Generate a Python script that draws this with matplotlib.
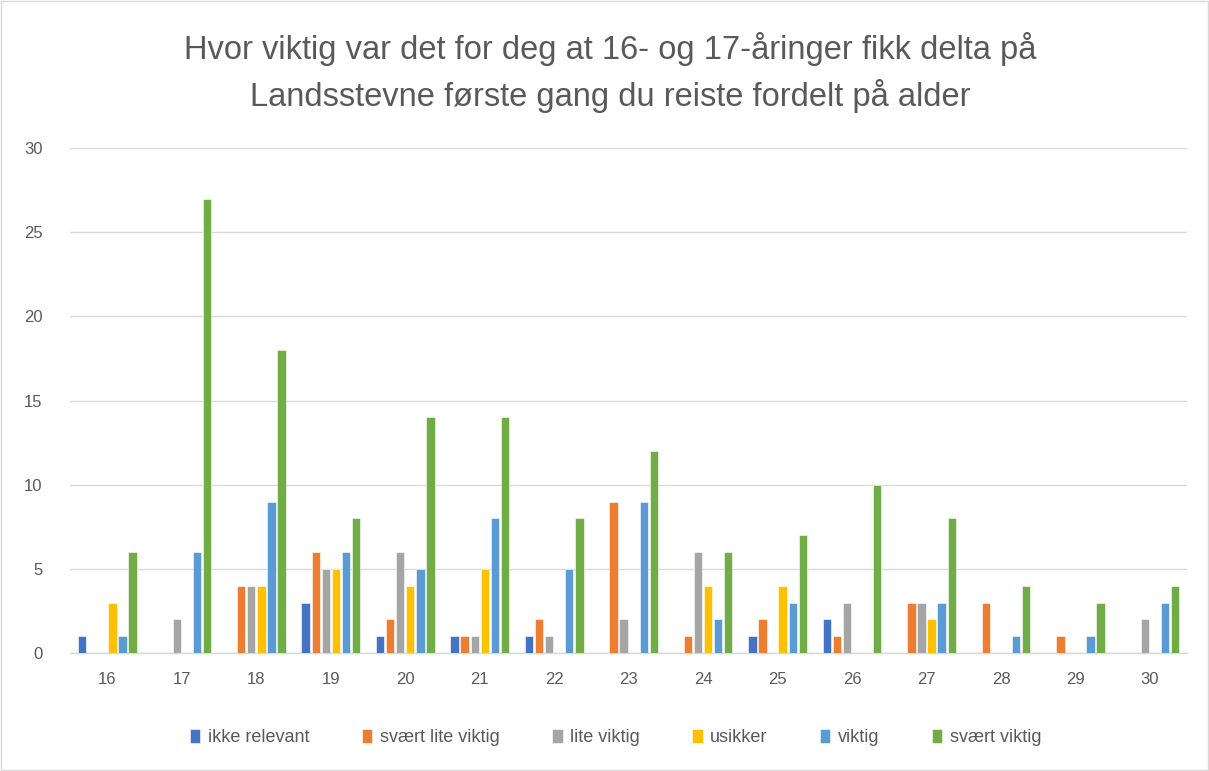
"""Grouped bar chart: importance by age (Landsstevne survey)"""

import numpy as np
import matplotlib
matplotlib.use('Agg')
import matplotlib.pyplot as plt

plt.rcParams['font.family'] = ['Liberation Sans', 'DejaVu Sans']

ages = ['16', '17', '18', '19', '20', '21', '22', '23', '24', '25', '26', '27', '28', '29', '30']
series_names = ['ikke relevant', 'svært lite viktig', 'lite viktig', 'usikker', 'viktig', 'svært viktig']

ikke_relevant = [1, 0, 0, 3, 1, 1, 1, 0, 0, 1, 2, 0, 0, 0, 0]
svaert_lite_viktig = [0, 0, 4, 6, 2, 1, 2, 9, 1, 2, 1, 3, 3, 1, 0]
lite_viktig = [0, 2, 4, 5, 6, 1, 1, 2, 6, 0, 3, 3, 0, 0, 2]
usikker = [3, 0, 4, 5, 4, 5, 0, 0, 4, 4, 0, 2, 0, 0, 0]
viktig = [1, 6, 9, 6, 5, 8, 5, 9, 2, 3, 0, 3, 1, 1, 3]
svaert_viktig = [6, 27, 18, 8, 14, 14, 8, 12, 6, 7, 10, 8, 4, 3, 4]

colors = ['#4472C4', '#ED7D31', '#A5A5A5', '#FFC000', '#5B9BD5', '#70AD47']
TXT = '#595959'


def main():
    data = [ikke_relevant, svaert_lite_viktig, lite_viktig, usikker, viktig, svaert_viktig]

    fig = plt.figure(figsize=(12.09, 7.71), dpi=100)
    ax = fig.add_axes([0.058, 0.153, 0.924, 0.655])

    x = np.arange(len(ages))
    step = 0.135
    width = 0.112
    for i, (vals, name, c) in enumerate(zip(data, series_names, colors)):
        pos = x + (i - 2.5) * step
        ax.bar(pos, vals, width, color=c, label=name, edgecolor='white', linewidth=0.4, zorder=3)

    ax.set_xlim(-0.5, len(ages) - 0.5)
    ax.set_ylim(0, 30)
    ax.set_yticks(range(0, 31, 5))
    ax.set_xticks(x)
    ax.set_xticklabels(ages)
    ax.tick_params(axis='both', length=0, labelsize=12, colors=TXT)
    ax.tick_params(axis='y', pad=20)
    ax.tick_params(axis='x', pad=14)
    ax.grid(axis='y', color='#D9D9D9', linewidth=1, zorder=0)
    for s in ['top', 'right', 'left']:
        ax.spines[s].set_visible(False)
    ax.spines['bottom'].set_color('#D9D9D9')
    ax.spines['bottom'].set_linewidth(1)

    fig.text(0.505, 0.906, 'Hvor viktig var det for deg at 16- og 17-åringer fikk delta på\n'
             'Landsstevne første gang du reiste fordelt på alder',
             ha='center', va='center', fontsize=23.5, color=TXT, linespacing=1.5)

    fig.legend(loc='center', bbox_to_anchor=(0.509, 0.043), ncol=6, frameon=False,
               fontsize=13, labelcolor=TXT, handlelength=0.6, handleheight=0.8,
               handletextpad=0.4, columnspacing=2.9)

    # thin frame around the whole chart
    fig.patches.append(plt.Rectangle((0.001, 0.001), 0.998, 0.998, transform=fig.transFigure,
                                     fill=False, edgecolor='#D9D9D9', linewidth=1))

    fig.savefig('out.png', dpi=100)


if __name__ == '__main__':
    main()
